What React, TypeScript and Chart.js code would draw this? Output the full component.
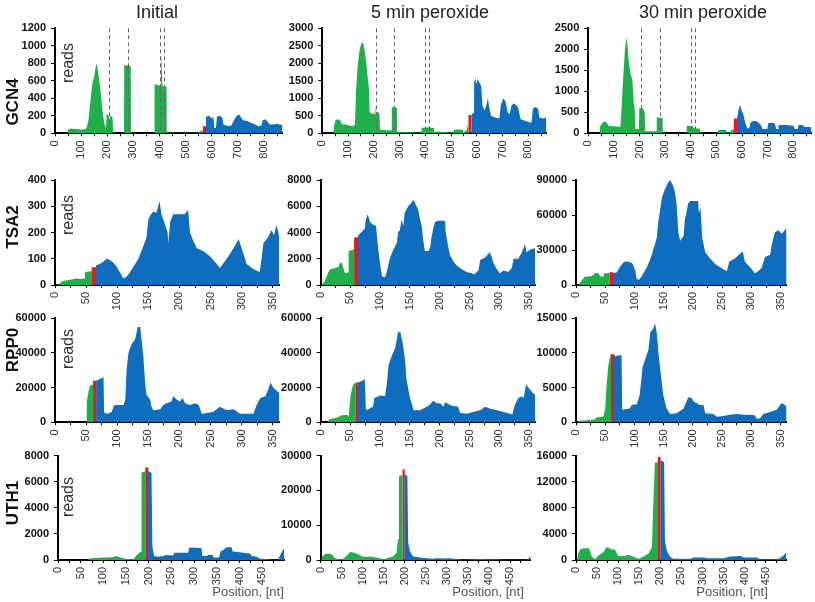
import React, { useEffect, useRef } from 'react';
import { Chart, registerables } from 'chart.js';
Chart.register(...registerables);

type Pt = [number, number];

const FONT = "'Liberation Sans', Arial, Helvetica, sans-serif";
const GREEN = '#1EB04B';
const RED = '#F21414';
const BLUE = '#0F6DBF';

// ---------- labels ----------
const conditions = ['Initial', '5 min peroxide', '30 min peroxide'];
const genes = ['GCN4', 'TSA2', 'RPP0', 'UTH1'];

// ---------- axes ----------
const geneXMax = [870, 360, 360, 498];
const geneXStep = [100, 50, 50, 50];
const gcn4YMax = [1200, 3000, 2500];
const gcn4YStep = [200, 500, 500];
const tsa2YMax = [400, 8000, 90000];
const tsa2YStep = [100, 2000, 30000];
const rpp0YMax = [60000, 60000, 15000];
const rpp0YStep = [20000, 20000, 5000];
const uth1YMax = [8000, 30000, 16000];
const uth1YStep = [2000, 10000, 4000];

// start codon (red) ranges [from, to] in nt
const gcn4Start: Pt[] = [[565, 578], [567, 580], [568, 581]];
const tsa2Start: Pt[] = [[59, 66], [56, 63], [57, 64]];
const rpp0Start: Pt[] = [[61, 67], [58, 63], [59, 66]];
const uth1Start: Pt[] = [[192, 199], [194, 200], [194, 201]];

// uORF markers (dashed lines) for GCN4
const gcn4Uorfs = [207, 278, 400, 416];

// ---------- reads: [position nt, reads] ----------
const gcn4Initial: Pt[] = [[0,0],[48,0],[50,40],[60,55],[75,50],[90,45],[105,40],[120,55],[128,150],[135,350],[142,550],[150,650],[157,780],[160,800],[165,700],[172,550],[180,300],[188,120],[195,60],[198,220],[205,210],[208,120],[210,200],[220,190],[223,0],[264,0],[265,780],[290,770],[291,0],[380,0],[381,560],[395,550],[405,550],[408,940],[411,540],[427,530],[428,0],[430,5],[550,5],[558,30],[565,30],[565,80],[578,80],[578,190],[590,200],[600,170],[606,190],[610,60],[616,60],[620,190],[630,200],[640,180],[645,100],[655,90],[665,80],[675,90],[685,150],[695,200],[705,215],[712,180],[720,150],[735,140],[750,120],[765,100],[780,80],[790,90],[795,150],[805,160],[815,130],[822,100],[835,100],[850,110],[860,100],[870,95]];
const gcn4Peroxide5: Pt[] = [[0,0],[42,0],[45,200],[52,380],[62,400],[70,370],[76,260],[90,250],[105,220],[120,200],[127,250],[131,1200],[137,1900],[143,2300],[149,2500],[154,2600],[160,2550],[166,2300],[171,2000],[176,1600],[181,1300],[184,600],[195,550],[203,560],[205,850],[207,500],[209,620],[222,580],[224,100],[250,90],[269,90],[270,750],[290,720],[291,40],[310,30],[330,40],[350,20],[385,20],[386,160],[405,160],[415,180],[425,150],[434,160],[435,20],[445,50],[470,40],[490,20],[508,20],[512,100],[530,110],[546,100],[548,40],[560,80],[567,300],[567,520],[580,520],[580,560],[589,570],[590,1500],[593,1620],[598,1400],[603,1550],[610,1450],[617,1350],[622,800],[630,650],[637,800],[643,1000],[648,750],[655,500],[670,450],[688,420],[693,800],[703,1000],[712,900],[720,600],[728,550],[735,800],[745,850],[760,750],[770,400],[790,350],[812,300],[818,700],[828,750],[838,700],[843,450],[860,420],[870,450]];
const gcn4Peroxide30: Pt[] = [[0,0],[42,0],[45,150],[55,250],[62,280],[72,260],[78,180],[95,170],[110,160],[125,150],[128,400],[133,1000],[138,1500],[143,2000],[148,2200],[151,2300],[155,1900],[160,1600],[166,1400],[172,1250],[178,700],[181,600],[183,100],[197,100],[199,620],[206,580],[212,600],[220,500],[222,50],[265,50],[267,380],[290,360],[291,10],[383,10],[384,180],[408,170],[412,120],[436,110],[437,5],[505,5],[508,80],[538,80],[541,15],[552,20],[560,80],[568,100],[568,350],[581,350],[581,380],[588,600],[592,680],[598,550],[605,450],[612,250],[620,120],[628,120],[632,250],[645,300],[660,280],[675,180],[680,100],[698,100],[702,240],[715,260],[728,230],[733,100],[741,100],[742,200],[770,200],[800,180],[805,100],[818,100],[820,200],[835,200],[845,150],[860,150],[875,140]];

const tsa2Initial: Pt[] = [[0,0],[3,0],[8,8],[13,15],[20,18],[28,22],[35,25],[42,23],[47,25],[48,50],[59,52],[59,68],[66,68],[66,75],[72,80],[78,90],[83,100],[88,95],[94,85],[99,70],[104,50],[110,25],[114,30],[118,40],[126,70],[134,100],[139,130],[147,180],[150,250],[153,265],[158,280],[163,275],[168,320],[171,270],[177,230],[181,200],[182,160],[185,240],[190,270],[201,270],[208,270],[214,285],[217,200],[222,170],[228,140],[238,130],[249,110],[260,80],[265,65],[276,100],[287,140],[295,175],[300,140],[308,80],[314,70],[319,60],[329,50],[332,100],[335,160],[342,180],[348,210],[352,190],[356,230],[360,190]];
const tsa2Peroxide5: Pt[] = [[0,0],[2,0],[7,300],[13,1000],[16,1200],[25,1300],[30,1400],[32,1700],[36,1650],[38,1300],[41,900],[46,950],[47,2600],[55,2700],[56,2700],[56,3600],[63,3650],[63,3800],[70,4100],[74,4300],[76,5000],[79,5400],[83,4800],[88,4600],[93,4500],[96,3000],[100,1500],[103,650],[108,600],[111,1000],[116,2000],[122,2700],[128,3200],[130,4000],[133,4200],[136,5000],[139,4500],[141,5500],[147,6000],[153,6300],[156,6500],[161,6000],[164,5700],[167,5000],[170,4400],[172,3500],[175,2600],[181,2600],[184,2900],[186,3600],[189,4300],[192,4800],[197,4900],[209,4900],[210,4000],[214,3000],[217,2300],[223,1800],[228,1500],[237,1200],[245,1000],[254,900],[258,800],[265,1100],[268,1900],[276,2100],[284,2500],[287,2200],[290,1700],[296,1200],[301,900],[307,1100],[315,1000],[321,1300],[324,2000],[332,2000],[338,2500],[343,3100],[346,2500],[352,2700],[360,2800]];
const tsa2Peroxide30: Pt[] = [[0,0],[4,0],[10,4000],[15,7000],[25,7500],[30,8500],[33,10500],[38,10000],[41,8000],[44,7000],[47,7000],[48,10000],[57,10300],[57,11000],[64,11000],[64,10000],[70,11000],[76,16000],[82,20000],[90,20000],[95,19000],[98,17000],[101,13000],[104,5000],[108,4500],[113,8000],[121,15000],[127,22000],[132,30000],[138,40000],[141,55000],[147,75000],[152,82000],[158,88000],[161,90000],[166,85000],[169,80000],[172,70000],[175,45000],[178,38000],[184,42000],[186,55000],[192,70000],[195,72000],[209,72000],[210,62000],[213,66000],[216,40000],[221,28000],[229,23000],[238,18000],[247,15000],[258,12000],[262,20000],[272,23000],[281,27000],[285,29000],[289,20000],[298,15000],[306,10000],[312,12000],[318,15000],[323,24000],[332,26000],[335,35000],[340,45000],[346,47000],[352,44000],[360,49000]];

const rpp0Initial: Pt[] = [[0,0],[50,0],[51,12000],[54,18000],[56,21000],[61,22000],[61,24000],[67,24000],[72,25000],[78,26000],[79,5500],[85,5000],[91,6000],[94,9000],[96,10000],[110,10000],[113,13000],[115,30000],[118,40000],[123,45000],[129,48000],[133,55000],[137,55000],[139,48000],[142,38000],[145,22000],[147,16000],[153,13000],[155,9000],[158,7000],[169,7500],[174,10000],[179,11000],[187,12000],[190,15000],[196,13000],[201,12000],[205,14000],[209,11000],[217,10000],[225,11000],[231,10000],[233,8000],[236,5000],[254,6000],[265,9000],[276,7000],[287,7500],[297,5000],[319,5000],[324,10000],[330,14000],[338,15000],[343,19000],[346,23000],[351,20000],[360,17000]];
const rpp0Peroxide5: Pt[] = [[0,0],[12,0],[13,1500],[18,2000],[24,2500],[30,3000],[35,4000],[45,4200],[47,3000],[50,15000],[53,20000],[55,22000],[58,22500],[58,23000],[63,23000],[70,24000],[74,25000],[76,7000],[82,8000],[88,9000],[90,14000],[100,15500],[108,15000],[111,22000],[114,33000],[119,38000],[125,43000],[128,48000],[130,52000],[134,52000],[138,45000],[142,35000],[144,25000],[150,14000],[156,7000],[167,7000],[178,9000],[183,10000],[189,12500],[195,11000],[201,11000],[206,9000],[209,11500],[220,9500],[231,9000],[234,5500],[245,5000],[256,6000],[268,7000],[276,9000],[284,8000],[296,7000],[307,6000],[318,5000],[322,4500],[326,10000],[332,14000],[338,15000],[341,14000],[345,22000],[349,20000],[356,17000],[360,16000]];
const rpp0Peroxide30: Pt[] = [[0,0],[3,0],[4,200],[18,300],[32,400],[35,700],[47,850],[50,2000],[52,5000],[55,8000],[58,9300],[59,9300],[59,9800],[66,9800],[66,9500],[70,9600],[78,9700],[79,1800],[92,2000],[95,2500],[104,2600],[109,4000],[114,8000],[118,9000],[124,10500],[127,13000],[132,13500],[135,14300],[138,13000],[141,10000],[145,7000],[149,4000],[155,2000],[161,1200],[172,1300],[184,2000],[192,3600],[198,3500],[201,3000],[212,2500],[218,2500],[221,1300],[235,1200],[241,800],[252,900],[263,1100],[275,1200],[286,1100],[298,1100],[306,1000],[309,500],[315,600],[320,1200],[332,1500],[343,1800],[352,2800],[360,2300]];

const uth1Initial: Pt[] = [[0,0],[66,0],[68,120],[80,150],[92,170],[105,200],[122,220],[127,300],[133,250],[140,180],[148,100],[160,50],[166,50],[172,300],[180,600],[183,600],[184,6700],[192,6800],[192,7100],[199,7100],[199,6800],[206,6700],[208,1000],[212,300],[220,250],[234,300],[236,380],[254,350],[256,550],[287,550],[289,950],[316,920],[318,300],[328,300],[330,400],[341,380],[343,200],[355,200],[358,650],[366,800],[370,950],[382,1000],[385,650],[401,600],[408,550],[423,500],[427,300],[438,250],[445,100],[460,80],[470,20],[485,10],[490,400],[498,900]];
const uth1Peroxide5: Pt[] = [[0,0],[1,0],[2,600],[8,1500],[12,1800],[22,1800],[28,1500],[33,600],[40,300],[48,200],[55,500],[62,1200],[70,2300],[80,2100],[90,1600],[100,900],[108,900],[117,1000],[128,800],[140,500],[150,250],[160,600],[172,1000],[180,2000],[184,6000],[186,24000],[194,24500],[194,26000],[200,26000],[200,24800],[206,24000],[208,5000],[212,2500],[220,1000],[236,700],[252,500],[268,350],[275,500],[291,400],[307,500],[323,300],[339,100],[360,200],[380,300],[400,250],[420,200],[434,100],[450,50],[470,50],[490,100],[495,600],[498,1200]];
const uth1Peroxide30: Pt[] = [[0,0],[3,0],[5,1000],[10,1600],[17,1800],[30,1800],[33,1500],[37,600],[45,100],[53,700],[65,1200],[73,2000],[85,1600],[92,1600],[100,600],[116,600],[124,800],[136,500],[148,200],[160,500],[172,1000],[180,2000],[183,8000],[187,14900],[194,15000],[194,15800],[201,15800],[201,15300],[209,15000],[211,3000],[215,1500],[223,500],[231,200],[271,200],[279,400],[303,400],[311,250],[350,250],[366,550],[390,600],[398,400],[429,400],[437,100],[476,100],[484,300],[492,700],[498,1100]];

// ---------- layout (page pixels) ----------
const rowTop = [28.3, 180, 318.3, 455.7];
const rowBottom = [133.3, 285, 422.3, 560];
const panelLeft = [[55, 322.3, 588.3], [55, 320.7, 576], [55, 320.7, 576], [58, 320.7, 576]];
const panelRight = [[282.3, 546.3, 811.3], [279, 535, 786.5], [279, 535, 786.5], [284, 530.2, 786]];

interface PanelSpec {
  data: Pt[]; start: Pt; xMax: number; xStep: number; yMax: number; yStep: number;
  left: number; right: number; top: number; bottom: number; dashes: number[];
}

function interp(data: Pt[], x: number): number {
  for (let i = 1; i < data.length; i++) {
    const [x0, y0] = data[i - 1];
    const [x1, y1] = data[i];
    if (x >= x0 && x <= x1) return x1 === x0 ? y1 : y0 + ((y1 - y0) * (x - x0)) / (x1 - x0);
  }
  return 0;
}

function slice(data: Pt[], a: number, b: number) {
  const pts = data.filter(([x]) => x >= a && x <= b).map(([x, y]) => ({ x, y }));
  if (!pts.length || pts[0].x > a) pts.unshift({ x: a, y: interp(data, a) });
  if (pts[pts.length - 1].x < b) pts.push({ x: b, y: interp(data, b) });
  return pts;
}

function tickValues(max: number, step: number): number[] {
  const out: number[] = [];
  for (let v = 0; v <= max + 1e-9; v += step) out.push(v);
  return out;
}

const dashPlugin = {
  id: 'uorfDashes',
  afterDatasetsDraw(chart: any, _args: any, opts: any) {
    const xs: number[] = (opts && opts.positions) || [];
    if (!xs.length) return;
    const { ctx, chartArea, scales } = chart;
    ctx.save();
    ctx.strokeStyle = '#666';
    ctx.lineWidth = 1;
    ctx.setLineDash([4, 3]);
    for (const v of xs) {
      const px = Math.round(scales.x.getPixelForValue(v)) + 0.5;
      ctx.beginPath();
      ctx.moveTo(px, chartArea.top);
      ctx.lineTo(px, chartArea.bottom - 3);
      ctx.stroke();
    }
    ctx.restore();
  },
};

function Panel({ spec }: { spec: PanelSpec }) {
  const ref = useRef<HTMLCanvasElement>(null);
  const cl = Math.floor(spec.left - 46);
  const ct = Math.floor(spec.top - 10);
  const w = Math.ceil(spec.right + 6 - cl);
  const h = Math.ceil(spec.bottom + 30 - ct);
  const yW = spec.left - cl;
  const padTop = spec.top - ct;
  const padRight = cl + w - spec.right;
  const xH = ct + h - spec.bottom;

  useEffect(() => {
    const [s0, s1] = spec.start;
    const mk = (pts: any[], color: string) => ({
      data: pts,
      fill: 'origin',
      backgroundColor: color,
      borderColor: 'rgba(0,0,0,0)',
      borderWidth: 0,
      pointRadius: 0,
      tension: 0,
    });
    const xTicks = tickValues(spec.xMax, spec.xStep / 2);
    const yTicks = tickValues(spec.yMax, spec.yStep);
    const chart = new Chart(ref.current!, {
      type: 'line',
      data: {
        datasets: [
          mk(slice(spec.data, 0, s0 + 1), GREEN),
          mk(slice(spec.data, s1 - 1, spec.xMax + 10), BLUE),
          mk(slice(spec.data, s0, s1), RED),
        ] as any,
      },
      options: {
        responsive: false,
        animation: false,
        devicePixelRatio: 1,
        events: [],
        layout: { autoPadding: false, padding: { top: padTop, right: padRight, left: 0, bottom: 0 } } as any,
        plugins: {
          legend: { display: false },
          tooltip: { enabled: false },
          uorfDashes: { positions: spec.dashes },
        } as any,
        scales: {
          x: {
            type: 'linear',
            min: 0,
            max: spec.xMax,
            z: 1,
            afterBuildTicks: (s: any) => { s.ticks = xTicks.map((v) => ({ value: v })); },
            afterFit: (s: any) => {
              s.height = xH;
              s.paddingLeft = 0; s.paddingRight = 0; s.paddingTop = 0; s.paddingBottom = 0;
            },
            border: { display: true, color: '#000', width: 2 },
            grid: { display: true, drawOnChartArea: false, drawTicks: true, tickLength: 3, color: '#000' },
            ticks: {
              autoSkip: false,
              minRotation: 90,
              maxRotation: 90,
              padding: 4,
              color: '#333',
              font: { family: FONT, size: 11 },
              callback: (v: any) => (Math.abs(v % spec.xStep) < 1e-9 ? String(v) : ''),
            },
          },
          y: {
            type: 'linear',
            min: 0,
            max: spec.yMax,
            z: 1,
            afterBuildTicks: (s: any) => { s.ticks = yTicks.map((v) => ({ value: v })); },
            afterFit: (s: any) => {
              s.width = yW;
              s.paddingLeft = 0; s.paddingRight = 0; s.paddingTop = 0; s.paddingBottom = 0;
            },
            border: { display: true, color: '#000', width: 2 },
            grid: { display: true, drawOnChartArea: false, drawTicks: true, tickLength: 4, color: '#000' },
            ticks: {
              autoSkip: false,
              padding: 5,
              color: '#111',
              font: { family: FONT, size: 11, weight: 'bold' },
              callback: (v: any) => String(v),
            },
          },
        } as any,
      },
      plugins: [dashPlugin],
    });
    return () => chart.destroy();
  }, []);

  return (
    <canvas
      ref={ref}
      width={w}
      height={h}
      style={{ position: 'absolute', left: cl, top: ct, width: w, height: h }}
    />
  );
}

function buildPanels(): PanelSpec[] {
  const datas = [
    [gcn4Initial, gcn4Peroxide5, gcn4Peroxide30],
    [tsa2Initial, tsa2Peroxide5, tsa2Peroxide30],
    [rpp0Initial, rpp0Peroxide5, rpp0Peroxide30],
    [uth1Initial, uth1Peroxide5, uth1Peroxide30],
  ];
  const starts = [gcn4Start, tsa2Start, rpp0Start, uth1Start];
  const yMaxes = [gcn4YMax, tsa2YMax, rpp0YMax, uth1YMax];
  const ySteps = [gcn4YStep, tsa2YStep, rpp0YStep, uth1YStep];
  const out: PanelSpec[] = [];
  for (let r = 0; r < 4; r++) {
    for (let c = 0; c < 3; c++) {
      out.push({
        data: datas[r][c],
        start: starts[r][c],
        xMax: geneXMax[r],
        xStep: geneXStep[r],
        yMax: yMaxes[r][c],
        yStep: ySteps[r][c],
        left: panelLeft[r][c],
        right: panelRight[r][c],
        top: rowTop[r],
        bottom: rowBottom[r],
        dashes: r === 0 ? gcn4Uorfs : [],
      });
    }
  }
  return out;
}

const titleX = [157, 430, 703];
const geneLabelY = [102, 227, 350, 503];
const readsY = [63, 215, 349, 497];
const positionX = [248, 488, 732];

export default function App() {
  const panels = buildPanels();
  const rot = (x: number, y: number, extra: React.CSSProperties, text: string, key: string) => (
    <div
      key={key}
      style={{
        position: 'absolute', left: x, top: y, transform: 'translate(-50%, -50%) rotate(-90deg)',
        whiteSpace: 'nowrap', fontFamily: FONT, ...extra,
      }}
    >
      {text}
    </div>
  );
  return (
    <div style={{ position: 'absolute', left: 0, top: 0, width: 815, height: 602, background: '#fff', overflow: 'hidden' }}>
      {panels.map((p, i) => <Panel key={i} spec={p} />)}
      {conditions.map((t, i) => (
        <div key={'t' + i} style={{
          position: 'absolute', left: titleX[i], top: 3, transform: 'translateX(-50%)', whiteSpace: 'nowrap',
          fontFamily: FONT, fontSize: 18, lineHeight: '18px', color: '#222',
        }}>{t}</div>
      ))}
      {genes.map((g, i) => rot(12, geneLabelY[i], { fontSize: 17, fontWeight: 'bold', lineHeight: '17px', color: '#111' }, g, 'g' + i))}
      {readsY.map((y, i) => rot(67.5, y, { fontSize: 16, lineHeight: '16px', color: '#333' }, 'reads', 'r' + i))}
      {positionX.map((x, i) => (
        <div key={'p' + i} style={{
          position: 'absolute', left: x, top: 585, transform: 'translateX(-50%)', whiteSpace: 'nowrap',
          fontFamily: FONT, fontSize: 13, lineHeight: '13px', color: '#555',
        }}>Position, [nt]</div>
      ))}
    </div>
  );
}
